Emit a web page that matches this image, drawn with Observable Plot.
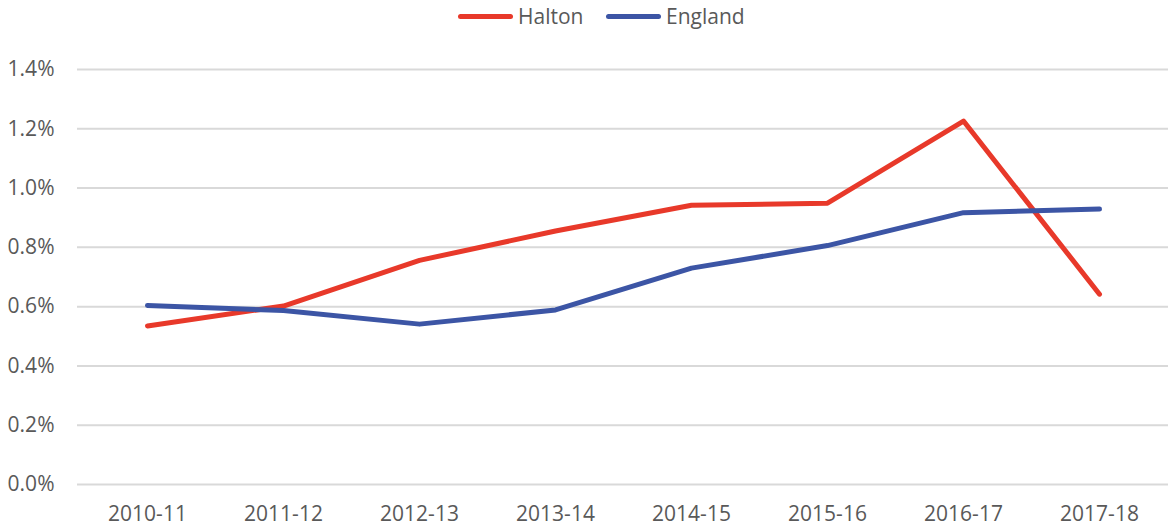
<!DOCTYPE html>
<html>
<head>
<meta charset="utf-8">
<script src="https://cdn.jsdelivr.net/npm/d3@7"></script>
<script src="https://cdn.jsdelivr.net/npm/@observablehq/plot@0.6"></script>
<style>
  html, body { margin: 0; padding: 0; background: #fff; }
  body { width: 1170px; height: 529px; overflow: hidden; font-family: "Open Sans", "Liberation Sans", sans-serif; }
  #legend { height: 34px; position: relative; color: #595959; font-size: 21px; }
  .item { position: absolute; top: 2px; display: flex; align-items: center; height: 28px; }
  .sw { width: 55px; height: 5px; border-radius: 3px; margin-right: 5px; }
</style>
</head>
<body>
<div id="legend"></div>
<div id="chart"></div>
<script>
const years = ["2010-11","2011-12","2012-13","2013-14","2014-15","2015-16","2016-17","2017-18"];
const halton = [0.535, 0.602, 0.756, 0.855, 0.942, 0.949, 1.226, 0.642];
const england = [0.604, 0.587, 0.541, 0.589, 0.730, 0.806, 0.917, 0.929];
const yTicks = [0, 0.2, 0.4, 0.6, 0.8, 1.0, 1.2, 1.4];
const seriesNames = ["Halton", "England"];
const seriesColors = ["#E8392A", "#3C55A5"];

const data = [];
years.forEach((y, i) => {
  data.push({year: y, value: halton[i], series: "Halton"});
  data.push({year: y, value: england[i], series: "England"});
});

// legend
const legend = document.getElementById("legend");
const lx = [458, 606];
seriesNames.forEach((s, i) => {
  const it = document.createElement("div");
  it.className = "item";
  it.style.left = lx[i] + "px";
  const sw = document.createElement("div");
  sw.className = "sw";
  sw.style.background = seriesColors[i];
  it.appendChild(sw);
  const t = document.createElement("span");
  t.textContent = s;
  it.appendChild(t);
  legend.appendChild(it);
});

const chart = Plot.plot({
  width: 1170,
  height: 495,
  marginTop: 35,
  marginBottom: 45,
  marginLeft: 77,
  marginRight: 2,
  style: { fontFamily: "'Open Sans', 'Liberation Sans', sans-serif", fontSize: "21px", color: "#595959", background: "#fff" },
  x: { type: "point", domain: years, padding: 0.5, label: null },
  y: { domain: [0, 1.4], label: null },
  color: { domain: seriesNames, range: seriesColors },
  marks: [
    Plot.ruleY(yTicks, { stroke: "#d9d9d9", strokeWidth: 2 }),
    Plot.axisY(yTicks, { tickSize: 0, tickPadding: 23, tickFormat: d => d.toFixed(1) + "%", fill: "#595959", fontSize: 21 }),
    Plot.axisX({ tickSize: 0, tickPadding: 22, fill: "#595959", fontSize: 21 }),
    Plot.line(data, { x: "year", y: "value", z: "series", stroke: "series", strokeWidth: 5, strokeLinecap: "round", strokeLinejoin: "round" })
  ]
});
document.getElementById("chart").appendChild(chart);
</script>
</body>
</html>
